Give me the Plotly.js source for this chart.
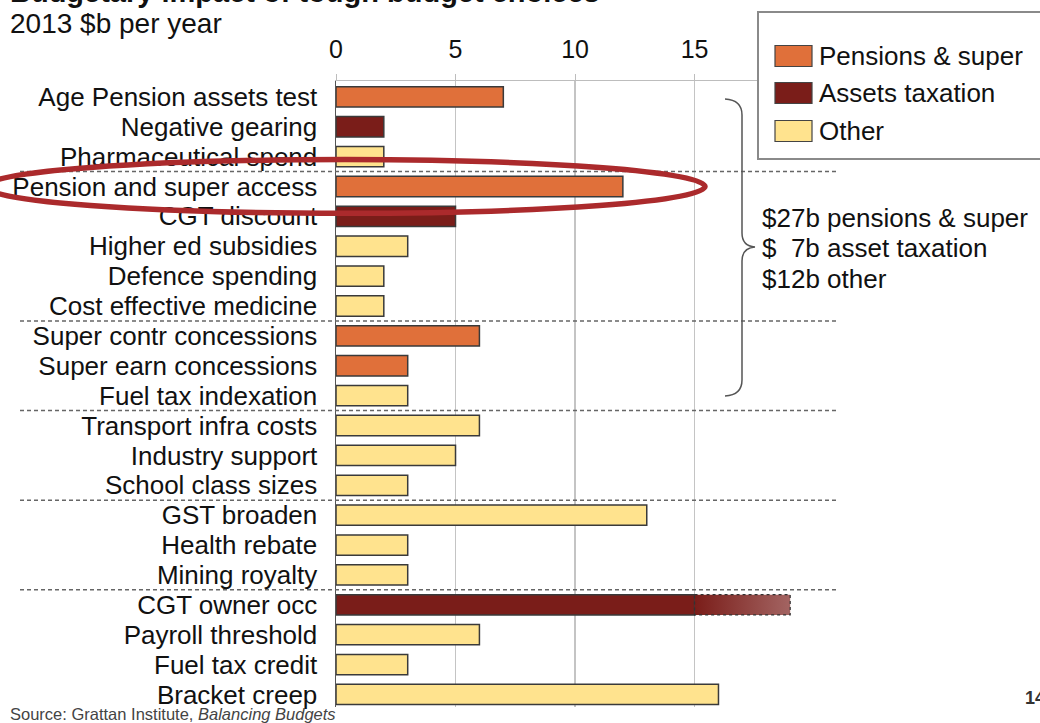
<!DOCTYPE html>
<html>
<head>
<meta charset="utf-8">
<script src="https://cdn.plot.ly/plotly-3.0.1.min.js"></script>
<style>html,body{margin:0;padding:0;background:#fff;}#chart{width:1040px;height:723px;}</style>
</head>
<body>
<div id="chart"></div>
<script>
// ---- data ----
const categories = [
  "Age Pension assets test","Negative gearing","Pharmaceutical spend","Pension and super access",
  "CGT discount","Higher ed subsidies","Defence spending","Cost effective medicine",
  "Super contr concessions","Super earn concessions","Fuel tax indexation","Transport infra costs",
  "Industry support","School class sizes","GST broaden","Health rebate","Mining royalty",
  "CGT owner occ","Payroll threshold","Fuel tax credit","Bracket creep"
];
const values = [7,2,2,12,5,3,2,2,6,3,3,6,5,3,13,3,3,19,6,3,16];
const groups = [
  "Pensions & super","Assets taxation","Other","Pensions & super",
  "Assets taxation","Other","Other","Other",
  "Pensions & super","Pensions & super","Other","Other",
  "Other","Other","Other","Other","Other",
  "Assets taxation","Other","Other","Other"
];
const groupNames = ["Pensions & super","Assets taxation","Other"];
const groupColors = ["#E0703A","#7A1D19","#FFE38E"];
const xTicks = [0,5,10,15];
const fadedCategories = ["CGT owner occ"];   // bar drawn faded beyond fadedFrom
const fadedFrom = [15];
const separatorsAfter = [2,7,10,13,16];
const totals = ["$27b pensions & super","$\u00a0\u00a07b asset taxation","$12b other"];
const titleText = "Budgetary impact of tough budget choices";
const subtitleText = "2013 $b per year";
const sourceText = "Source: Grattan Institute, <i>Balancing Budgets</i>";
const pageNumber = "14";
const highlight = "Pension and super access";

// ---- layout geometry (pixels) ----
const W = 1040, H = 723;
const M = {l:336, r:202, t:81, b:16};
const PW = W - M.l - M.r, PH = H - M.t - M.b;
const px = v => (v - M.l) / PW;
const py = v => (H - M.b - v) / PH;
const FONT = "Liberation Sans, Arial, sans-serif";
const barW = 0.68;
const idx = categories.map((c,i)=>i);

const solidEnd = i => {
  const k = fadedCategories.indexOf(categories[i]);
  return k >= 0 ? Math.min(values[i], fadedFrom[k]) : values[i];
};

const traces = [];
groupNames.forEach((g,gi)=>{
  const ys=[], xs=[];
  idx.forEach(i=>{ if(groups[i]===g){ ys.push(i); xs.push(solidEnd(i)); } });
  traces.push({type:'bar', orientation:'h', name:g, x:xs, y:ys, width:barW,
    marker:{color:groupColors[gi], line:{color:'#3a3a3a', width:1.5}},
    showlegend:false, hoverinfo:'x+y'});
});
// faded portions
fadedCategories.forEach((c,k)=>{
  const i = categories.indexOf(c);
  if(i<0 || values[i]<=fadedFrom[k]) return;
  const gi = groupNames.indexOf(groups[i]);
  const y0=i-barW/2, y1=i+barW/2;
  traces.push({type:'scatter', mode:'lines', x:[fadedFrom[k],values[i],values[i],fadedFrom[k],fadedFrom[k]],
    y:[y0,y0,y1,y1,y0], fill:'toself',
    fillgradient:{type:'horizontal', colorscale:[[0,groupColors[gi]],[1,'#A36462']]},
    fillcolor:'rgba(140,60,58,0.9)',
    line:{color:'#333', width:1.2, dash:'dot'}, showlegend:false, hoverinfo:'skip'});
});

const shapes = [];
separatorsAfter.forEach(s=>{
  shapes.push({type:'line', xref:'paper', yref:'y', x0:px(20), x1:px(838), y0:s+0.5, y1:s+0.5,
    line:{color:'#666', width:1.5, dash:'4px,3px'}, layer:'above'});
});
const hi = categories.indexOf(highlight);
shapes.push({type:'circle', xref:'paper', yref:'y', x0:px(-15), x1:px(705), y0:hi-0.9, y1:hi+0.9,
  line:{color:'#AB2A2C', width:5.5}, layer:'above'});
const P = (x,y)=>px(x).toFixed(5)+','+py(y).toFixed(5);
shapes.push({type:'path', xref:'paper', yref:'paper',
  path:'M'+P(725,99)+' Q'+P(742,100)+' '+P(742,115)+' L'+P(742,233)+' Q'+P(742,246)+' '+P(755,247)+
       ' Q'+P(742,248)+' '+P(742,261)+' L'+P(742,380)+' Q'+P(742,395)+' '+P(725,396),
  line:{color:'#555', width:1.5}, layer:'above'});
shapes.push({type:'rect', xref:'paper', yref:'paper', x0:px(758), x1:px(1050), y0:py(12), y1:py(159),
  fillcolor:'#fff', line:{color:'#8a8a8a', width:2}, layer:'above'});
const legRows=[56,93,131];
const annotations = [];
groupNames.forEach((g,gi)=>{
  shapes.push({type:'rect', xref:'paper', yref:'paper', x0:px(775), x1:px(812),
    y0:py(legRows[gi]-10.5), y1:py(legRows[gi]+10.5),
    fillcolor:groupColors[gi], line:{color:'#444', width:1.2}, layer:'above'});
  annotations.push({xref:'paper', yref:'paper', x:px(817), y:py(legRows[gi]), xanchor:'left', yanchor:'middle',
    text:g, showarrow:false, font:{size:26, color:'#111', family:FONT}});
});
const totRows=[218,248,279];
totals.forEach((t,k)=>{
  annotations.push({xref:'paper', yref:'paper', x:px(760), y:py(totRows[k]), xanchor:'left', yanchor:'middle',
    text:t, showarrow:false, font:{size:26, color:'#111', family:FONT}});
});
annotations.push({xref:'paper', yref:'paper', x:px(8), y:py(-8), xanchor:'left', yanchor:'middle',
  text:'<b>'+titleText+'</b>', showarrow:false, font:{size:29, color:'#111', family:FONT}});
annotations.push({xref:'paper', yref:'paper', x:px(8), y:py(23), xanchor:'left', yanchor:'middle',
  text:subtitleText, showarrow:false, font:{size:28, color:'#111', family:FONT}});
annotations.push({xref:'paper', yref:'paper', x:px(8), y:py(714), xanchor:'left', yanchor:'middle',
  text:sourceText, showarrow:false, font:{size:16.5, color:'#444', family:FONT}});
annotations.push({xref:'paper', yref:'paper', x:px(1023), y:py(698), xanchor:'left', yanchor:'middle',
  text:'<b>'+pageNumber+'</b>', showarrow:false, font:{size:18, color:'#333', family:FONT}});

const layout = {
  width:W, height:H, margin:M, paper_bgcolor:'#fff', plot_bgcolor:'#fff',
  font:{family:FONT, color:'#111'},
  showlegend:false, barmode:'overlay',
  xaxis:{side:'top', range:[0,21], tickvals:xTicks, ticktext:xTicks.map(String),
    showgrid:true, gridcolor:'#c4c4c4', gridwidth:1.2, zeroline:false,
    showline:true, linecolor:'#bdbdbd', linewidth:1.5,
    ticks:'outside', ticklen:6, tickcolor:'#bdbdbd', tickfont:{size:25, color:'#111'},
    ticklabelstandoff:6, fixedrange:true},
  yaxis:{range:[20.42,-0.53], tickvals:idx, ticktext:categories, showgrid:false, zeroline:false,
    showline:true, linecolor:'#555', linewidth:1.5, ticks:'', ticklabelstandoff:12,
    tickfont:{size:26, color:'#111'}, fixedrange:true},
  shapes:shapes, annotations:annotations
};
Plotly.newPlot('chart', traces, layout, {displayModeBar:false, staticPlot:true});
</script>
</body>
</html>
